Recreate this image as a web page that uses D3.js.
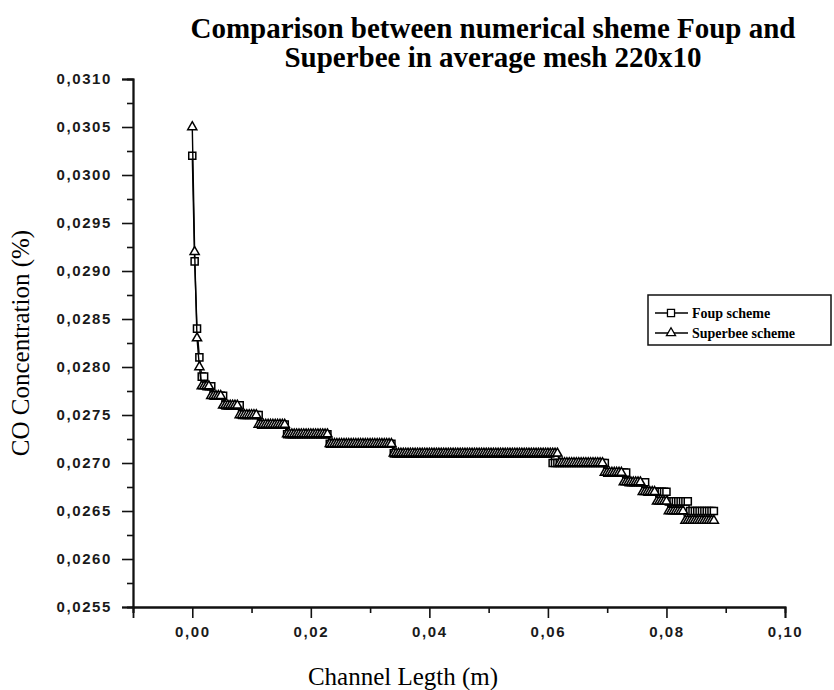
<!DOCTYPE html>
<html>
<head>
<meta charset="utf-8">
<script src="https://cdn.jsdelivr.net/npm/d3@7"></script>
<style>
  body { margin: 0; background: #fff; }
  svg { display: block; }
  .tick text { font-family: "Liberation Sans", Arial, sans-serif; font-size: 15px; font-weight: bold; letter-spacing: 1.6px; fill: #1a1a1a; }
</style>
</head>
<body>
<svg id="canvas" width="834" height="690"></svg>
<script>
// node positions along the channel (m)
let channelX = [
  0.0000,0.0004,0.0008,0.0012,0.0016,0.0020,0.0024,0.0028,0.0032,0.0036,
  0.0040,0.0044,0.0048,0.0052,0.0056,0.0060,0.0064,0.0068,0.0072,0.0076,
  0.0080,0.0084,0.0088,0.0092,0.0096,0.0100,0.0104,0.0108,0.0112,0.0116,
  0.0120,0.0124,0.0128,0.0132,0.0136,0.0140,0.0144,0.0148,0.0152,0.0156,
  0.0160,0.0164,0.0168,0.0172,0.0176,0.0180,0.0184,0.0188,0.0192,0.0196,
  0.0200,0.0204,0.0208,0.0212,0.0216,0.0220,0.0224,0.0228,0.0232,0.0236,
  0.0240,0.0244,0.0248,0.0252,0.0256,0.0260,0.0264,0.0268,0.0272,0.0276,
  0.0280,0.0284,0.0288,0.0292,0.0296,0.0300,0.0304,0.0308,0.0312,0.0316,
  0.0320,0.0324,0.0328,0.0332,0.0336,0.0340,0.0344,0.0348,0.0352,0.0356,
  0.0360,0.0364,0.0368,0.0372,0.0376,0.0380,0.0384,0.0388,0.0392,0.0396,
  0.0400,0.0404,0.0408,0.0412,0.0416,0.0420,0.0424,0.0428,0.0432,0.0436,
  0.0440,0.0444,0.0448,0.0452,0.0456,0.0460,0.0464,0.0468,0.0472,0.0476,
  0.0480,0.0484,0.0488,0.0492,0.0496,0.0500,0.0504,0.0508,0.0512,0.0516,
  0.0520,0.0524,0.0528,0.0532,0.0536,0.0540,0.0544,0.0548,0.0552,0.0556,
  0.0560,0.0564,0.0568,0.0572,0.0576,0.0580,0.0584,0.0588,0.0592,0.0596,
  0.0600,0.0604,0.0608,0.0612,0.0616,0.0620,0.0624,0.0628,0.0632,0.0636,
  0.0640,0.0644,0.0648,0.0652,0.0656,0.0660,0.0664,0.0668,0.0672,0.0676,
  0.0680,0.0684,0.0688,0.0692,0.0696,0.0700,0.0704,0.0708,0.0712,0.0716,
  0.0720,0.0724,0.0728,0.0732,0.0736,0.0740,0.0744,0.0748,0.0752,0.0756,
  0.0760,0.0764,0.0768,0.0772,0.0776,0.0780,0.0784,0.0788,0.0792,0.0796,
  0.0800,0.0804,0.0808,0.0812,0.0816,0.0820,0.0824,0.0828,0.0832,0.0836,
  0.0840,0.0844,0.0848,0.0852,0.0856,0.0860,0.0864,0.0868,0.0872,0.0876,
  0.0880
];

// CO concentration (%), Foup scheme
let foupCO = [
  0.0302,0.0291,0.0284,0.0281,0.0279,0.0279,0.0278,0.0278,0.0278,0.0277,
  0.0277,0.0277,0.0277,0.0277,0.0276,0.0276,0.0276,0.0276,0.0276,0.0276,
  0.0276,0.0275,0.0275,0.0275,0.0275,0.0275,0.0275,0.0275,0.0275,0.0274,
  0.0274,0.0274,0.0274,0.0274,0.0274,0.0274,0.0274,0.0274,0.0274,0.0274,
  0.0273,0.0273,0.0273,0.0273,0.0273,0.0273,0.0273,0.0273,0.0273,0.0273,
  0.0273,0.0273,0.0273,0.0273,0.0273,0.0273,0.0273,0.0273,0.0272,0.0272,
  0.0272,0.0272,0.0272,0.0272,0.0272,0.0272,0.0272,0.0272,0.0272,0.0272,
  0.0272,0.0272,0.0272,0.0272,0.0272,0.0272,0.0272,0.0272,0.0272,0.0272,
  0.0272,0.0272,0.0272,0.0272,0.0272,0.0271,0.0271,0.0271,0.0271,0.0271,
  0.0271,0.0271,0.0271,0.0271,0.0271,0.0271,0.0271,0.0271,0.0271,0.0271,
  0.0271,0.0271,0.0271,0.0271,0.0271,0.0271,0.0271,0.0271,0.0271,0.0271,
  0.0271,0.0271,0.0271,0.0271,0.0271,0.0271,0.0271,0.0271,0.0271,0.0271,
  0.0271,0.0271,0.0271,0.0271,0.0271,0.0271,0.0271,0.0271,0.0271,0.0271,
  0.0271,0.0271,0.0271,0.0271,0.0271,0.0271,0.0271,0.0271,0.0271,0.0271,
  0.0271,0.0271,0.0271,0.0271,0.0271,0.0271,0.0271,0.0271,0.0271,0.0271,
  0.0271,0.0271,0.0270,0.0270,0.0270,0.0270,0.0270,0.0270,0.0270,0.0270,
  0.0270,0.0270,0.0270,0.0270,0.0270,0.0270,0.0270,0.0270,0.0270,0.0270,
  0.0270,0.0270,0.0270,0.0270,0.0270,0.0269,0.0269,0.0269,0.0269,0.0269,
  0.0269,0.0269,0.0269,0.0269,0.0268,0.0268,0.0268,0.0268,0.0268,0.0268,
  0.0268,0.0268,0.0267,0.0267,0.0267,0.0267,0.0267,0.0267,0.0267,0.0267,
  0.0267,0.0266,0.0266,0.0266,0.0266,0.0266,0.0266,0.0266,0.0266,0.0266,
  0.0265,0.0265,0.0265,0.0265,0.0265,0.0265,0.0265,0.0265,0.0265,0.0265,
  0.0265
];

// CO concentration (%), Superbee scheme
let superbeeCO = [
  0.0305,0.0292,0.0283,0.0280,0.0278,0.0278,0.0278,0.0278,0.0277,0.0277,
  0.0277,0.0277,0.0277,0.0276,0.0276,0.0276,0.0276,0.0276,0.0276,0.0276,
  0.0275,0.0275,0.0275,0.0275,0.0275,0.0275,0.0275,0.0275,0.0274,0.0274,
  0.0274,0.0274,0.0274,0.0274,0.0274,0.0274,0.0274,0.0274,0.0274,0.0274,
  0.0273,0.0273,0.0273,0.0273,0.0273,0.0273,0.0273,0.0273,0.0273,0.0273,
  0.0273,0.0273,0.0273,0.0273,0.0273,0.0273,0.0273,0.0273,0.0272,0.0272,
  0.0272,0.0272,0.0272,0.0272,0.0272,0.0272,0.0272,0.0272,0.0272,0.0272,
  0.0272,0.0272,0.0272,0.0272,0.0272,0.0272,0.0272,0.0272,0.0272,0.0272,
  0.0272,0.0272,0.0272,0.0272,0.0272,0.0271,0.0271,0.0271,0.0271,0.0271,
  0.0271,0.0271,0.0271,0.0271,0.0271,0.0271,0.0271,0.0271,0.0271,0.0271,
  0.0271,0.0271,0.0271,0.0271,0.0271,0.0271,0.0271,0.0271,0.0271,0.0271,
  0.0271,0.0271,0.0271,0.0271,0.0271,0.0271,0.0271,0.0271,0.0271,0.0271,
  0.0271,0.0271,0.0271,0.0271,0.0271,0.0271,0.0271,0.0271,0.0271,0.0271,
  0.0271,0.0271,0.0271,0.0271,0.0271,0.0271,0.0271,0.0271,0.0271,0.0271,
  0.0271,0.0271,0.0271,0.0271,0.0271,0.0271,0.0271,0.0271,0.0271,0.0271,
  0.0271,0.0271,0.0271,0.0271,0.0271,0.0270,0.0270,0.0270,0.0270,0.0270,
  0.0270,0.0270,0.0270,0.0270,0.0270,0.0270,0.0270,0.0270,0.0270,0.0270,
  0.0270,0.0270,0.0270,0.0270,0.0269,0.0269,0.0269,0.0269,0.0269,0.0269,
  0.0269,0.0269,0.0268,0.0268,0.0268,0.0268,0.0268,0.0268,0.0268,0.0268,
  0.0267,0.0267,0.0267,0.0267,0.0267,0.0267,0.0266,0.0266,0.0266,0.0266,
  0.0266,0.0265,0.0265,0.0265,0.0265,0.0265,0.0265,0.0265,0.0264,0.0264,
  0.0264,0.0264,0.0264,0.0264,0.0264,0.0264,0.0264,0.0264,0.0264,0.0264,
  0.0264
];

let xMajor = [0, 0.02, 0.04, 0.06, 0.08, 0.10];
let xMinor = [-0.01, 0.01, 0.03, 0.05, 0.07, 0.09];
let yMajor = [0.0255, 0.0260, 0.0265, 0.0270, 0.0275, 0.0280, 0.0285, 0.0290, 0.0295, 0.0300, 0.0305, 0.0310];
let yMinor = [0.02575, 0.02625, 0.02675, 0.02725, 0.02775, 0.02825, 0.02875, 0.02925, 0.02975, 0.03025, 0.03075];

let seriesNames = ['Foup scheme', 'Superbee scheme'];
let titleLines = ['Comparison between numerical sheme Foup and', 'Superbee in average mesh 220x10'];

let canvas = d3.select('#canvas');

let xScale = d3.scaleLinear().domain([-0.01, 0.10]).range([133, 785]);
let yScale = d3.scaleLinear().domain([0.0255, 0.0310]).range([607, 79]);

let comma = fmt => v => d3.format(fmt)(v).replace('.', ',');

// axes
let xAxis = d3.axisBottom(xScale).tickValues(xMajor).tickSize(11).tickPadding(8).tickFormat(comma('.2f'));
let xAxisMinor = d3.axisBottom(xScale).tickValues(xMinor).tickSize(6).tickFormat('');
let yAxis = d3.axisLeft(yScale).tickValues(yMajor).tickSize(11).tickPadding(10).tickFormat(comma('.4f'));
let yAxisMinor = d3.axisLeft(yScale).tickValues(yMinor).tickSize(6).tickFormat('');

let styleAxis = g => {
  g.select('.domain').attr('stroke', '#111').attr('stroke-width', 1.8);
  g.selectAll('.tick line').attr('stroke', '#111').attr('stroke-width', 1.6);
};

canvas.append('g').attr('transform', 'translate(0,607)').call(xAxisMinor).call(styleAxis);
canvas.append('g').attr('transform', 'translate(0,607)').call(xAxis).call(styleAxis);
canvas.append('g').attr('transform', 'translate(133,0)').call(yAxisMinor).call(styleAxis);
canvas.append('g').attr('transform', 'translate(133,0)').call(yAxis).call(styleAxis);

// axis titles
canvas.append('text').
  attr('x', 403).
  attr('y', 685).
  attr('text-anchor', 'middle').
  style('font-family', '"Liberation Serif", "Times New Roman", serif').
  style('font-size', '25px').
  text('Channel Legth (m)');

canvas.append('text').
  attr('transform', 'translate(29,343) rotate(-90)').
  attr('text-anchor', 'middle').
  style('font-family', '"Liberation Serif", "Times New Roman", serif').
  style('font-size', '25px').
  text('CO Concentration (%)');

// title
canvas.selectAll('.title').
  data(titleLines).
  enter().
  append('text').
  attr('class', 'title').
  attr('x', 493).
  attr('y', (d, i) => 38 + i * 29).
  attr('text-anchor', 'middle').
  style('font-family', '"Liberation Serif", "Times New Roman", serif').
  style('font-weight', 'bold').
  style('font-size', '29px').
  text(d => d);

// data
let points = series => channelX.map((x, i) => [x, series[i]]);
let line = d3.line().x(d => xScale(d[0])).y(d => yScale(d[1]));
let squareSym = d3.symbol().type(d3.symbolSquare).size(50);
let triangleSym = d3.symbol().type(d3.symbolTriangle).size(36);

let drawSeries = (series, sym) => {
  let g = canvas.append('g');
  g.append('path').
    datum(points(series)).
    attr('d', line).
    attr('fill', 'none').
    attr('stroke', '#000').
    attr('stroke-width', 1.4);
  g.selectAll('path.mark').
    data(points(series)).
    enter().
    append('path').
    attr('class', 'mark').
    attr('d', sym).
    attr('transform', d => 'translate(' + xScale(d[0]) + ',' + yScale(d[1]) + ')').
    attr('fill', '#fff').
    attr('stroke', '#000').
    attr('stroke-width', 1.5);
};

drawSeries(foupCO, squareSym);
drawSeries(superbeeCO, triangleSym);

// legend
let legend = canvas.append('g');
legend.append('rect').
  attr('x', 648).
  attr('y', 295).
  attr('width', 183).
  attr('height', 50).
  attr('fill', '#fff').
  attr('stroke', '#111').
  attr('stroke-width', 1.5);

let legendSyms = [squareSym, triangleSym];
seriesNames.forEach((name, i) => {
  let y = 313 + i * 20;
  legend.append('line').
    attr('x1', 655).attr('x2', 688).
    attr('y1', y).attr('y2', y).
    attr('stroke', '#000').attr('stroke-width', 1.4);
  legend.append('path').
    attr('d', legendSyms[i]).
    attr('transform', 'translate(671,' + y + ')').
    attr('fill', '#fff').
    attr('stroke', '#000').
    attr('stroke-width', 1.3);
  legend.append('text').
    attr('x', 692).
    attr('y', y + 5).
    style('font-family', '"Liberation Serif", "Times New Roman", serif').
    style('font-weight', 'bold').
    style('font-size', '14px').
    text(name);
});
</script>
</body>
</html>
